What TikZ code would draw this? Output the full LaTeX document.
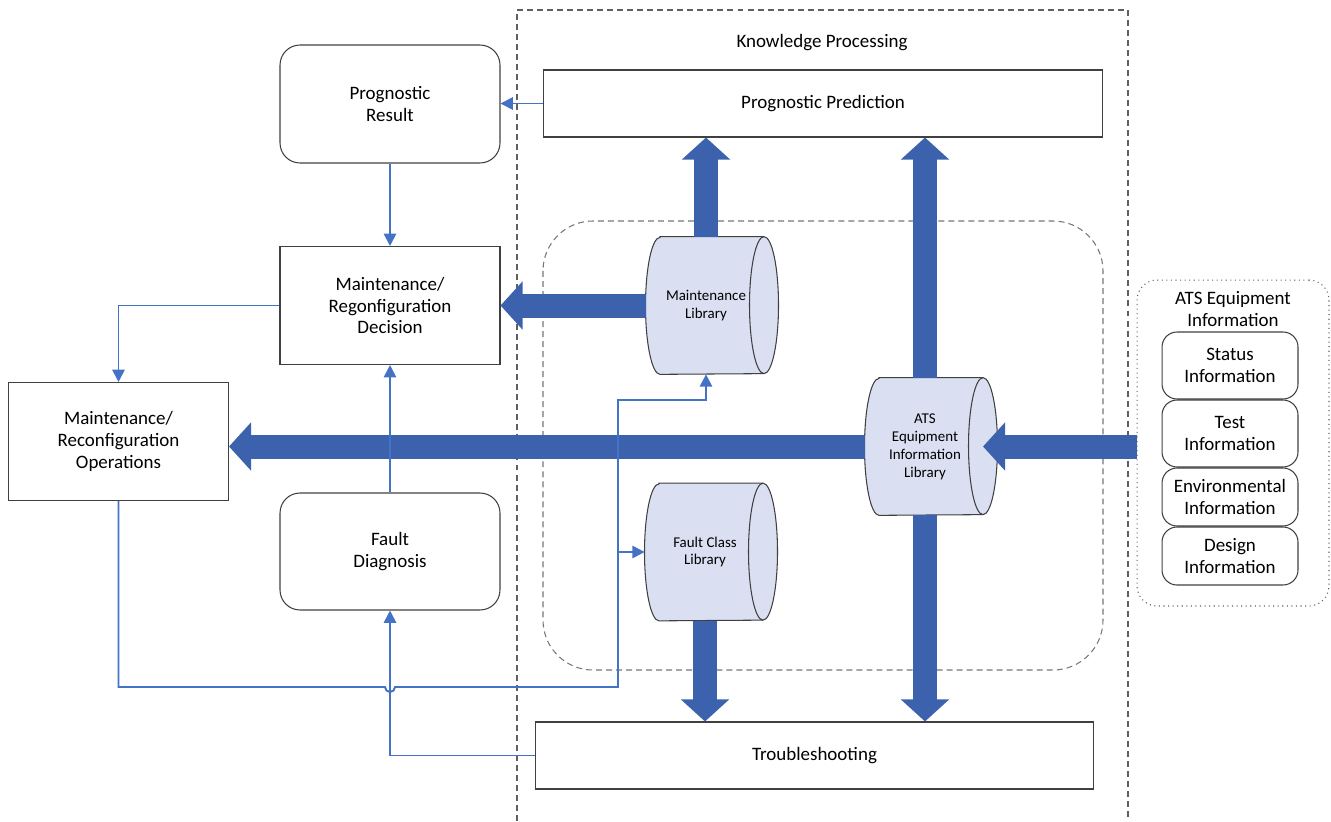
\documentclass[tikz,border=0pt]{standalone}
\usepackage{fontspec}
\setmainfont{Carlito}
\usepackage{tikz}
\usetikzlibrary{arrows.meta,positioning,calc,backgrounds}
\definecolor{flowBlue}{HTML}{4472C4}
\definecolor{bigBlue}{HTML}{3D62AD}
\definecolor{libFill}{HTML}{DAE0F2}
\definecolor{lineGray}{HTML}{404040}
\definecolor{dashGray}{HTML}{5F5F5F}

% drum outline behind a library node (body runs from -46 to +58 around the text)
\newcommand{\libdrum}[1]{%
  \path[drumbody] ($(#1.north)+(-46,0)$) -- ($(#1.north)+(58,0)$)
    arc[start angle=90, end angle=-90, x radius=0.29cm, y radius=1.37cm]
    -- ($(#1.south)+(-46,0)$)
    arc[start angle=270, end angle=90, x radius=0.29cm, y radius=1.37cm] -- cycle;
  \draw[drumline] ($(#1.north)+(58,0)$)
    arc[start angle=90, end angle=270, x radius=0.29cm, y radius=1.37cm];
}

\begin{document}
\begin{tikzpicture}[x=0.02cm, y=-0.02cm, font=\fontsize{10.8}{12.5}\selectfont,
    box/.style={draw=lineGray, line width=0.6pt, align=center, minimum width=4.4cm, minimum height=2.36cm, inner sep=2pt},
    softbox/.style={box, rounded corners=0.4cm},
    wide/.style={draw=lineGray, line width=0.6pt, minimum width=11.2cm, minimum height=1.34cm},
    infobox/.style={draw=lineGray, line width=0.6pt, rounded corners=0.3cm, align=center, minimum width=2.72cm, inner sep=1pt},
    library/.style={align=center, minimum width=2.4cm, minimum height=2.74cm, inner sep=1pt, font=\fontsize{8.5}{10.2}\selectfont},
    drumbody/.style={draw=lineGray, line width=0.6pt, fill=libFill},
    drumline/.style={draw=lineGray, line width=0.6pt},
    flow/.style={draw=flowBlue, line width=1.1pt, -{Triangle[length=7pt,width=7pt]}},
    bigflow/.style={draw=bigBlue, line width=0.48cm, -{Triangle[length=0.44cm,width=0.94cm]}}]
    \useasboundingbox (0,0) rectangle (1331,821);

    % knowledge processing frame
    \draw[dashGray, line width=0.6pt, dash pattern=on 3.4pt off 2.3pt] (517,821) -- (517,10) -- (1128,10) -- (1128,821);
    \node (kplabel) at (822,43) {Knowledge Processing};
    \draw[dashGray!85, line width=0.6pt, dash pattern=on 3.4pt off 2.3pt, rounded corners=1cm] (543,221) rectangle (1103,670);

    \node[wide] (pred) at (823,103.5) {Prognostic Prediction};
    \node[wide, minimum width=11.18cm] (trouble) at (814.5,755.5) {Troubleshooting};

    % libraries
    \node[library] (mlib) at (706,305.5) {Maintenance\\Library};
    \node[library] (flib) at (705,552) {Fault Class\\Library};
    \node[library] (alib) at (925,446.5) {ATS\\Equipment\\Information\\Library};
    \begin{scope}[on background layer]
        \libdrum{mlib}
        \libdrum{flib}
        \libdrum{alib}
    \end{scope}

    % left column
    \node[softbox] (progres) at (390,104) {Prognostic\\Result};
    \node[box] (decision) at (390,305.5) {Maintenance/\\Regonfiguration\\Decision};
    \node[box] (ops) at (118.5,441.5) {Maintenance/\\Reconfiguration\\Operations};
    \node[softbox, minimum height=2.34cm] (diag) at (390,551.5) {Fault\\Diagnosis};

    % equipment information
    \node[draw=dashGray, dotted, line width=0.6pt, rounded corners=0.4cm, minimum width=3.84cm, minimum height=6.52cm] (atsgroup) at (1233,443) {};
    \node[align=center] (atstitle) at (1233,309) {ATS Equipment\\Information};
    \node[infobox, minimum height=1.34cm] (status) at (1230,365.5) {Status\\Information};
    \node[infobox, minimum height=1.34cm] (test) at (1230,433.5) {Test\\Information};
    \node[infobox, minimum height=1.16cm] (env) at (1230,497) {Environmental\\Information};
    \node[infobox, minimum height=1.16cm] (design) at (1230,556) {Design\\Information};

    % thick flows
    \coordinate (alibface) at ($(alib.center)+(58,0)$);
    \draw[bigflow] (mlib.north) -- (mlib.north |- pred.south);
    \draw[bigflow] (mlib.west) -- (mlib.west -| decision.east);
    \draw[bigflow] (alib.north) -- (alib.north |- pred.south);
    \draw[bigflow] (alib.south) -- (alib.south |- trouble.north);
    \draw[bigflow] (alib.west) -- (alib.west -| ops.east);
    \draw[bigflow] (flib.south) -- (flib.south |- trouble.north);
    \draw[bigflow] (atsgroup.west |- alibface) -- (alibface);

    % thin flows
    \coordinate (hop) at (390,687);
    \draw[flow] (pred.west) -- (pred.west -| progres.east);
    \draw[flow] (progres.south) -- (decision.north);
    \draw[flow] (diag.north) -- (decision.south);
    \draw[flow] (decision.west) -| (ops.north);
    \draw[flow] (trouble.west) -| (diag.south);
    \draw[flow] (ops.south) |- ($(hop)+(-5,0)$) arc[start angle=180, end angle=0, radius=5] -| (618,400) -| (mlib.south);
    \draw[flow] (618,0 |- flib.west) -- (flib.west);
\end{tikzpicture}
\end{document}
